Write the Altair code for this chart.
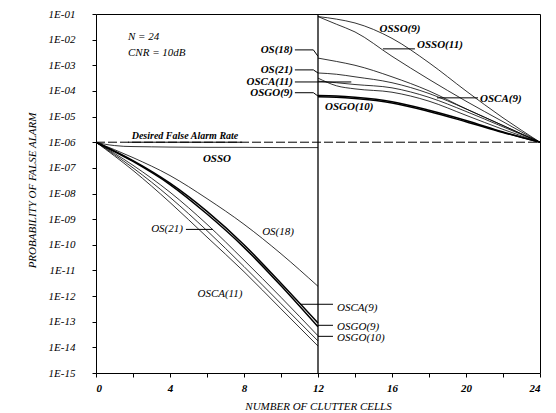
import altair as alt
import pandas as pd

# ---- data (log10 of probability of false alarm) ----
left_x = [0, 2, 4, 6, 8, 10, 12]
osso_left_x = [0, 0.5, 1, 1.5, 2, 3, 4, 6, 8, 10, 12]
osso_left = [-6, -6.08, -6.13, -6.16, -6.17, -6.18, -6.19, -6.2, -6.2, -6.21, -6.21]
os18_left = [-6, -6.6, -7.3, -8.2, -9.2, -10.35, -11.62]
osca9_left = [-6, -6.72, -7.6, -8.7, -10.0, -11.5, -13.05]
osgo9_left = [-6, -6.75, -7.65, -8.8, -10.1, -11.6, -13.2]
osgo10_left = [-6, -6.9, -7.95, -9.2, -10.6, -12.05, -13.55]
os21_left = [-6, -7.0, -8.15, -9.45, -10.85, -12.3, -13.75]
osca11_left = [-6, -7.1, -8.35, -9.7, -11.05, -12.5, -13.95]

right_x = [12, 13, 14, 16, 18, 20, 22, 24]
osso9_right = [-1.1, -1.2, -1.35, -1.95, -2.9, -4.0, -5.05, -6.0]
osso11_right = [-1.1, -1.4, -1.7, -2.65, -3.55, -4.4, -5.2, -6.0]
os18_right = [-2.72, -2.85, -3.0, -3.45, -4.0, -4.7, -5.35, -6.0]
os21_right = [-3.3, -3.35, -3.45, -3.68, -4.1, -4.7, -5.35, -6.0]
osca11_right = [-3.62, -3.68, -3.75, -3.88, -4.25, -4.8, -5.4, -6.0]
osca9_right = [-3.5, -3.8, -3.92, -4.05, -4.4, -4.95, -5.5, -6.0]
osgo9_right = [-4.18, -4.2, -4.25, -4.42, -4.75, -5.15, -5.6, -6.0]
osgo10_right = [-4.23, -4.25, -4.3, -4.47, -4.8, -5.2, -5.62, -6.0]

desired_rate = -6

thin_series = [
    ("OSSO L", osso_left_x, osso_left),
    ("OS(18) L", left_x, os18_left),
    ("OSGO(10) L", left_x, osgo10_left),
    ("OS(21) L", left_x, os21_left),
    ("OSCA(11) L", left_x, osca11_left),
    ("OSSO(9) R", right_x, osso9_right),
    ("OSSO(11) R", right_x, osso11_right),
    ("OS(18) R", right_x, os18_right),
    ("OS(21) R", right_x, os21_right),
    ("OSCA(11) R", right_x, osca11_right),
    ("OSCA(9) R", right_x, osca9_right),
]
bold_series = [
    ("OSCA(9) L", left_x, osca9_left),
    ("OSGO(9) L", left_x, osgo9_left),
    ("OSGO(9) R", right_x, osgo9_right),
    ("OSGO(10) R", right_x, osgo10_right),
]


def frame(series):
    rows = []
    for name, xs, ys in series:
        for x, y in zip(xs, ys):
            rows.append({"key": name, "x": x, "p": 10.0 ** y})
    return pd.DataFrame(rows)


# annotation texts (x, log10 p)
labels_italic_left = [("N = 24", 1.73, -1.89), ("CNR = 10dB", 1.73, -2.52),
                      ("OSCA(9)", 13.03, -12.45), ("OSGO(9)", 13.03, -13.2),
                      ("OSGO(10)", 13.03, -13.65)]
labels_italic_center = [("OS(18)", 9.84, -9.5), ("OSCA(11)", 6.7, -11.93)]
labels_italic_right = [("OS(21)", 4.7, -9.4)]
labels_bold_center = [("OSSO", 6.54, -6.64), ("OSSO(9)", 16.43, -1.58)]
labels_bold_left = [("OSGO(10)", 12.38, -4.62), ("OSSO(11)", 17.35, -2.22),
                    ("OSCA(9)", 20.76, -4.31)]
labels_bold_right = [("OS(18)", 10.65, -2.4), ("OS(21)", 10.65, -3.18),
                     ("OSCA(11)", 10.65, -3.65), ("OSGO(9)", 10.65, -4.07)]

leaders = [
    (4.86, -9.4, 6.32, -9.4),
    (11.03, -12.32, 12.81, -12.32),
    (12.0, -13.14, 12.81, -13.14),
    (12.0, -13.57, 12.81, -13.57),
    (10.75, -2.4, 11.75, -2.4), (11.75, -2.4, 12.0, -2.65),
    (10.75, -3.18, 11.75, -3.18), (11.75, -3.18, 12.0, -3.3),
    (10.75, -3.65, 13.8, -3.65),
    (10.75, -4.07, 11.75, -4.07), (11.75, -4.07, 12.0, -4.2),
    (15.51, -2.36, 17.24, -2.36),
    (18.43, -4.27, 20.65, -4.27),
    (1.73, -6.0, 7.9, -6.0),
]

FONT = "Liberation Serif"

xscale = alt.Scale(domain=[0, 24], nice=False, zero=False)
yscale = alt.Scale(type="log", domain=[1e-15, 1e-1], nice=False)

xaxis = alt.Axis(
    values=list(range(0, 25, 2)),
    labelExpr="datum.value % 4 == 0 ? datum.value : ''",
    grid=False, domain=False, tickSize=4, tickColor="black",
    labelFont=FONT, labelFontStyle="italic", labelFontSize=11, labelColor="black",
    labelFontWeight="bold", labelPadding=5,
    title="NUMBER OF CLUTTER CELLS", titleFont=FONT, titleFontStyle="italic",
    titleFontWeight="normal", titleFontSize=11, titleColor="black",
    titleBaseline="middle", titleY=33,
)
yaxis = alt.Axis(
    values=[10.0 ** (-k) for k in range(1, 16)],
    labelExpr="'1E-' + (round(-log(datum.value)/LN10) < 10 ? '0' : '') + round(-log(datum.value)/LN10)",
    grid=False, domain=False, tickSize=4, tickColor="black",
    labelFont=FONT, labelFontStyle="italic", labelFontSize=11, labelColor="black",
    labelPadding=17,
    title="PROBABILITY OF FALSE ALARM", titleFont=FONT, titleFontStyle="italic",
    titleFontWeight="normal", titleFontSize=11, titleColor="black",
    titleX=-64, titleY=176, titleBaseline="middle", titleAlign="center",
)


def X(f="x"):
    return alt.X(f"{f}:Q", scale=xscale, axis=xaxis)


def Y(f="p"):
    return alt.Y(f"{f}:Q", scale=yscale, axis=yaxis)


thin = alt.Chart(frame(thin_series)).mark_line(
    color="black", strokeWidth=0.8, interpolate="monotone"
).encode(x=X(), y=Y(), detail="key:N")

bold = alt.Chart(frame(bold_series)).mark_line(
    color="black", strokeWidth=1.5, interpolate="monotone"
).encode(x=X(), y=Y(), detail="key:N")

vline = alt.Chart(pd.DataFrame({"x": [12]})).mark_rule(
    color="black", strokeWidth=1.3
).encode(x=X())

desired = alt.Chart(pd.DataFrame({"x": [0], "x2": [24], "p": [10.0 ** desired_rate]})).mark_rule(
    color="black", strokeWidth=1, strokeDash=[9, 3]
).encode(x=X(), x2="x2:Q", y=Y())

lead_df = pd.DataFrame([{"x": a, "p": 10.0 ** b, "x2": c, "p2": 10.0 ** d}
                        for a, b, c, d in leaders])
lead = alt.Chart(lead_df).mark_rule(color="black", strokeWidth=1).encode(
    x=X(), y=Y(), x2="x2:Q", y2="p2:Q")


def text_layer(items, align, weight, size=11):
    df = pd.DataFrame([{"t": t, "x": x, "p": 10.0 ** y} for t, x, y in items])
    return alt.Chart(df).mark_text(
        align=align, baseline="middle", font=FONT, fontStyle="italic",
        fontWeight=weight, fontSize=size, color="black"
    ).encode(x=X(), y=Y(), text="t:N")


desired_label = text_layer([("Desired False Alarm Rate", 4.81, -5.75)], "center", "bold", 10)

chart = alt.layer(
    desired, vline, thin, bold, lead,
    text_layer(labels_italic_left, "left", "normal"),
    text_layer(labels_italic_center, "center", "normal"),
    text_layer(labels_italic_right, "right", "normal"),
    text_layer(labels_bold_center, "center", "bold"),
    text_layer(labels_bold_left, "left", "bold"),
    text_layer(labels_bold_right, "right", "bold"),
    desired_label,
).properties(
    width=444, height=359,
    autosize=alt.AutoSizeParams(type="none"),
    padding={"left": 88, "top": 6, "right": 8, "bottom": 40},
    background="white",
).configure_view(stroke="black", strokeWidth=1)

chart.save("out.html", embed_options={"renderer": "svg", "actions": False})
